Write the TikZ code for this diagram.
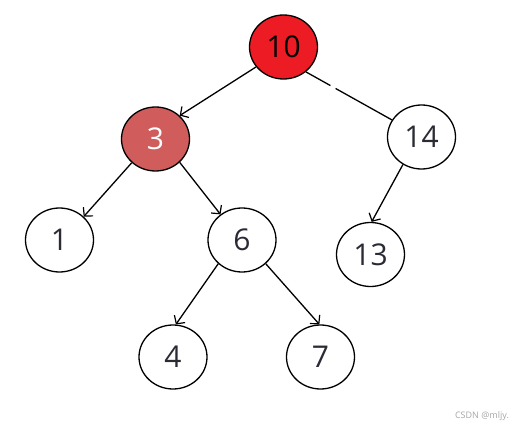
\documentclass[tikz,border=0pt]{standalone}
\usepackage{fontspec}
\setmainfont{Open Sans}
\usetikzlibrary{shapes.geometric,arrows.meta}
\definecolor{txt}{HTML}{2B2B36}
\definecolor{rootred}{HTML}{ED1C24}
\definecolor{darkrose}{HTML}{D05C5C}
\tikzset{
  treenode/.style={draw=black, line width=1.3pt, ellipse, minimum width=68pt, minimum height=64pt, inner sep=0pt, fill=white, text=txt, font=\fontsize{30}{30}\selectfont},
  edge/.style={draw=black, line width=1.3pt, -{Straight Barb[length=6pt,width=13pt,line width=1.2pt]}},
  plain/.style={draw=black, line width=1.3pt}
}
\begin{document}
\begin{tikzpicture}[x=1pt,y=-1pt]
\useasboundingbox (0,0) rectangle (514,427);
\node[treenode, fill=rootred, text=black] (n10) at (283.5,47) {10};
\node[treenode, fill=darkrose, text=white] (n3) at (155.5,139) {3};
\node[treenode] (n14) at (421.5,137) {14};
\node[treenode] (n1) at (59.5,240) {1};
\node[treenode] (n6) at (242,240) {6};
\node[treenode] (n13) at (370.5,254.5) {13};
\node[treenode] (n4) at (173,357) {4};
\node[treenode] (n7) at (320.5,357) {7};
\draw[edge] (n10.-144.5) -- (n3.44.5);
\draw[plain, dash pattern=on 28pt off 6pt on 100pt] (n10.-48) -- (n14.150);
\draw[edge] (n3.-135.5) -- (n1.44);
\draw[edge] (n3.-44) -- (n6.130);
\draw[edge] (n14.-124) -- (n13.88);
\draw[edge] (n6.-135) -- (n4.85);
\draw[edge] (n6.-45) -- (n7.92);
\node[text=black!35, font=\fontsize{9}{9}\selectfont] (wm) at (482,416) {CSDN @mljy.};
\end{tikzpicture}
\end{document}
